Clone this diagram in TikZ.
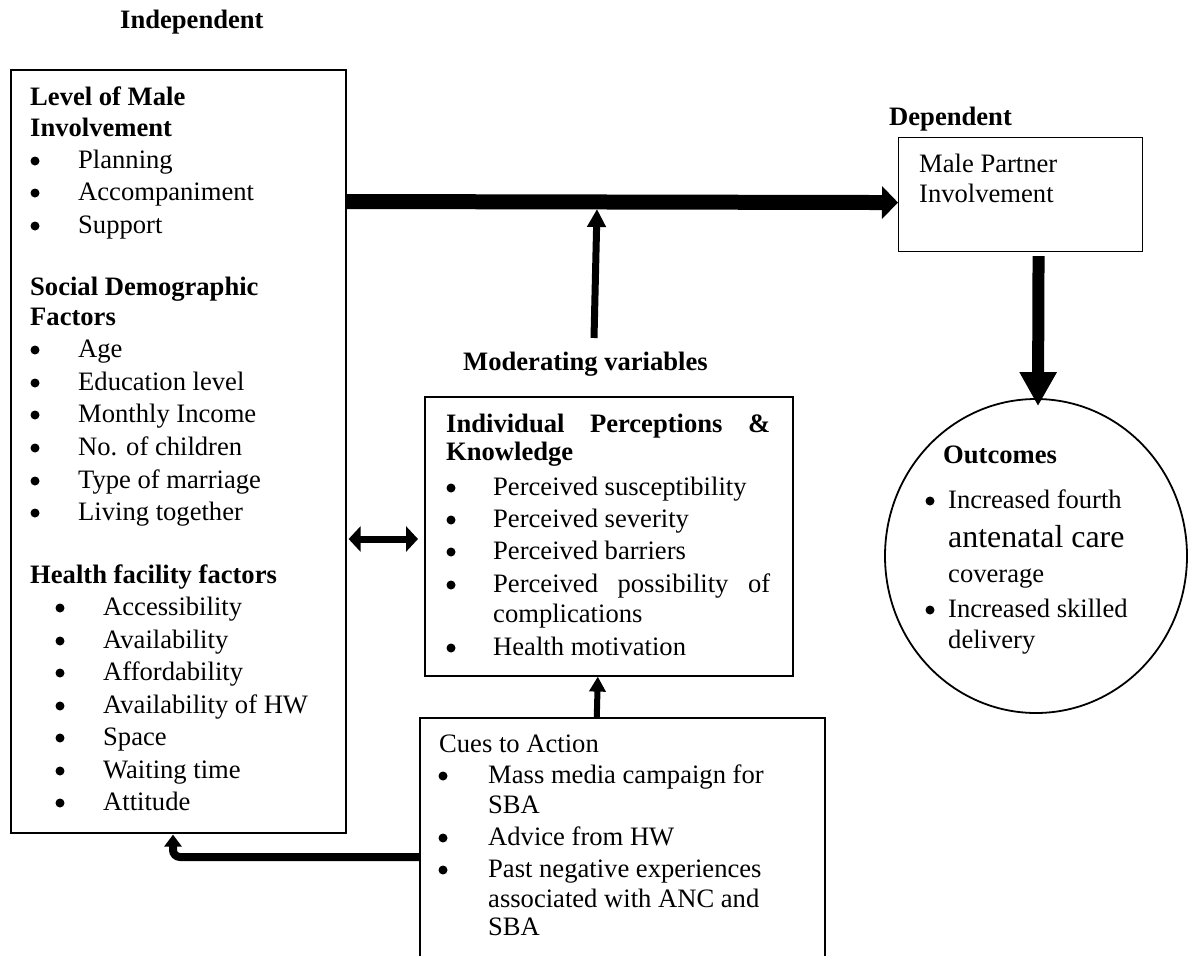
\documentclass[tikz,border=0pt]{standalone}
\usepackage{fontspec}
\setmainfont{Liberation Serif}
\usetikzlibrary{arrows.meta,shapes.geometric}
\newcommand\tline[4]{\node[txt] (#1) at (#2,#3) {#4};}
\newcommand\bline[5]{\node[bul] (#1b) at (#2,#4-7) {}; \node[txt] (#1) at (#3,#4) {#5};}
\tikzset{
  txt/.style={anchor=base west, inner sep=0pt, font=\fontsize{26.6pt}{32pt}\selectfont},
  bigtxt/.style={anchor=base west, inner sep=0pt, font=\fontsize{31.9pt}{38pt}\selectfont},
  bul/.style={circle, fill, inner sep=0pt, minimum size=9pt},
  box/.style={draw, line width=1.6pt, anchor=north west, inner sep=0pt},
  thinbox/.style={draw, line width=1.1pt, anchor=north west, inner sep=0pt},
  harrow/.style={line width=15pt, -{Triangle[length=16pt,width=32pt]}},
  varrow/.style={line width=12pt, -{Triangle[length=34pt,width=35pt]}},
  modarrow/.style={line width=7pt, -{Triangle[length=18pt,width=18pt]}},
  cuearrow/.style={line width=6pt, -{Triangle[length=15pt,width=16pt]}},
  dblarrow/.style={line width=7pt, {Triangle[length=12pt,width=25pt]}-{Triangle[length=12pt,width=25pt]}},
  elbarrow/.style={line width=8pt, rounded corners=7pt, -{Triangle[length=12pt,width=17pt]}}
}
\begin{document}
\begin{tikzpicture}[x=1pt,y=-1pt]
\useasboundingbox (0,0) rectangle (1189,956);

% ---------- boxes ----------
\node[box, minimum width=335pt, minimum height=763pt] (left) at (10,69) {};
\node[thinbox, minimum width=244pt, minimum height=114pt] (male) at (898,137) {};
\node[box, minimum width=368pt, minimum height=279pt] (mid) at (424,396) {};
\node[box, minimum width=405pt, minimum height=300pt] (cues) at (419,717) {};
\node[draw, line width=1.8pt, ellipse, minimum width=302pt, minimum height=314pt, inner sep=0pt] (out) at (1036,556) {};

% ---------- headings ----------
\tline{indep}{120}{28}{\textbf{Independent}}
\tline{dep}{889}{125}{\textbf{Dependent}}
\tline{modlab}{463}{370}{\textbf{Moderating variables}}

% ---------- left box text ----------
\tline{lm1}{30}{105}{\textbf{Level of Male}}
\tline{lm2}{30}{136}{\textbf{Involvement}}
\bline{pl}{35}{78}{168}{Planning}
\bline{ac}{35}{78}{200}{Accompaniment}
\bline{su}{35}{78}{233}{Support}
\tline{sd1}{30}{295}{\textbf{Social Demographic}}
\tline{sd2}{30}{325}{\textbf{Factors}}
\bline{ag}{35}{78}{357}{Age}
\bline{ed}{35}{78}{390}{Education level}
\bline{mi}{35}{78}{422}{Monthly Income}
\bline{nc}{35}{78}{455}{No. of children}
\bline{tm}{35}{78}{488}{Type of marriage}
\bline{lt}{35}{78}{520}{Living together}
\tline{hf}{30}{583}{\textbf{Health facility factors}}
\bline{acc}{60}{103}{615}{Accessibility}
\bline{av}{60}{103}{648}{Availability}
\bline{af}{60}{103}{680}{Affordability}
\bline{hw}{60}{103}{713}{Availability of HW}
\bline{sp}{60}{103}{745}{Space}
\bline{wt}{60}{103}{778}{Waiting time}
\bline{at}{60}{103}{810}{Attitude}

% ---------- male partner ----------
\tline{mp1}{919}{172}{Male Partner}
\tline{mp2}{919}{202}{Involvement}

% ---------- middle box ----------
\tline{ip1}{446}{432}{\makebox[324pt][s]{\textbf{Individual Perceptions \&}}}
\tline{ip2}{446}{460}{\textbf{Knowledge}}
\bline{ps}{451}{493}{495}{Perceived susceptibility}
\bline{pv}{451}{493}{527}{Perceived severity}
\bline{pb}{451}{493}{559}{Perceived barriers}
\bline{pp}{451}{493}{592}{\makebox[277pt][s]{Perceived possibility of}}
\tline{pp2}{493}{622}{complications}
\bline{hm}{451}{493}{655}{Health motivation}

% ---------- cues box ----------
\tline{ca}{439}{752}{Cues to Action}
\bline{mm}{443}{488}{783}{Mass media campaign for}
\tline{mm2}{488}{813}{SBA}
\bline{ad}{443}{488}{845}{Advice from HW}
\bline{pn}{443}{488}{877}{Past negative experiences}
\tline{pn2}{488}{907}{associated with ANC and}
\tline{pn3}{488}{935}{SBA}

% ---------- outcomes ----------
\tline{oc}{943}{463}{\textbf{Outcomes}}
\bline{if}{930}{948}{508}{Increased fourth}
\node[bigtxt] (anc) at (948,547) {antenatal care};
\tline{cov}{948}{582}{coverage}
\bline{isd}{930}{948}{617}{Increased skilled}
\tline{del}{948}{648}{delivery}

% ---------- connectors ----------
\draw[harrow] ([yshift=-132.5pt]left.north east) -- ([yshift=-8pt]male.west);
\coordinate (modstart) at (594,338);
\coordinate (modtip) at (597,209);
\draw[modarrow] (modstart) -- (modtip);
\draw[varrow] ([xshift=18pt,yshift=-4pt]male.south) -- ([xshift=2pt,yshift=-8pt]out.north);
\draw[dblarrow] ([xshift=2pt,yshift=-470pt]left.north east) -- ([xshift=-6pt,yshift=-143pt]mid.north west);
\draw[cuearrow] ([xshift=-25.5pt]cues.north) -- ([xshift=-11pt]mid.south);
\draw[elbarrow] ([yshift=-140pt]cues.north west) -| ([xshift=163pt,yshift=-1pt]left.south west);
\end{tikzpicture}
\end{document}
